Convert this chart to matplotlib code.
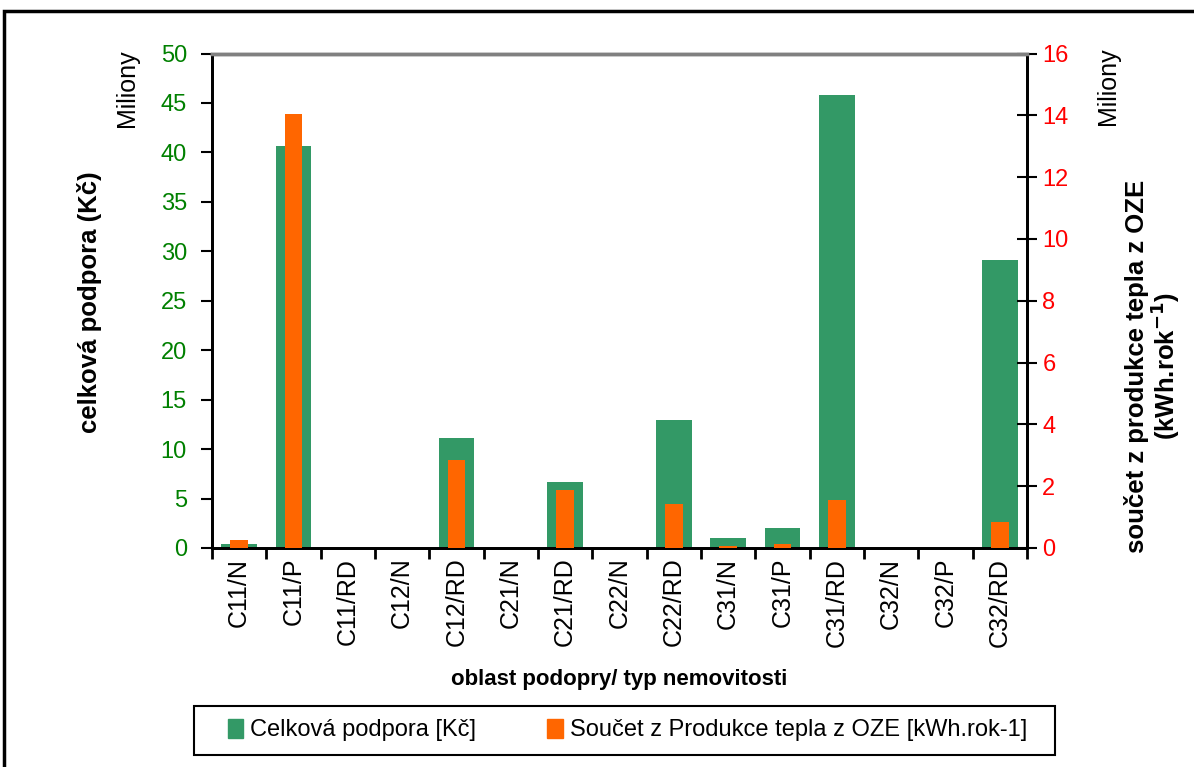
import numpy as np
import matplotlib.pyplot as plt
from matplotlib.patches import Rectangle, Patch

plt.rcParams['font.family'] = ['Liberation Sans', 'DejaVu Sans']

kategorie = ['C11/N', 'C11/P', 'C11/RD', 'C12/N', 'C12/RD', 'C21/N', 'C21/RD', 'C22/N',
             'C22/RD', 'C31/N', 'C31/P', 'C31/RD', 'C32/N', 'C32/P', 'C32/RD']
# celkova podpora v milionech Kc
podpora = [0.4, 40.65, 0, 0, 11.1, 0, 6.7, 0, 12.9, 1.0, 2.0, 45.8, 0, 0, 29.1]
# soucet produkce tepla z OZE v milionech kWh/rok
teplo = [0.26, 14.03, 0, 0, 2.84, 0, 1.87, 0, 1.42, 0.07, 0.14, 1.55, 0, 0, 0.84]

zelena = '#339966'
oranzova = '#FF6600'

fig = plt.figure(figsize=(11.94, 7.67), dpi=100)
ax = fig.add_axes([212/1194, 1 - 548/767, 815/1194, 494.5/767])
ax2 = ax.twinx()

x = np.arange(len(kategorie))
ax.bar(x, podpora, width=0.66, color=zelena, zorder=2)
ax2.bar(x, teplo, width=0.33, color=oranzova, zorder=3)

ax.set_xlim(-0.5, len(kategorie) - 0.5)
ax.set_ylim(0, 50)
ax2.set_ylim(0, 16)
ax.set_yticks(np.arange(0, 51, 5))
ax2.set_yticks(np.arange(0, 17, 2))

ax.set_xticks(x)
ax.set_xticklabels(kategorie, rotation=90, fontsize=18)
ax.set_xticks(np.arange(-0.5, len(kategorie), 1), minor=True)
ax.tick_params(axis='x', which='major', length=0, pad=7)
ax.tick_params(axis='x', which='minor', direction='out', length=8, width=2)
ax.tick_params(axis='y', direction='out', length=8, width=1.5, labelsize=17,
               labelcolor='#008000', pad=10)
ax2.tick_params(axis='y', direction='inout', length=14, width=1.5, labelsize=17,
                labelcolor='#FF0000', pad=4)

for a in (ax, ax2):
    for s in ('left', 'right', 'bottom'):
        a.spines[s].set_linewidth(2)
        a.spines[s].set_color('black')
    a.spines['top'].set_color('#808080')
    a.spines['top'].set_linewidth(2.5)

ax.set_xlabel('oblast podopry/ typ nemovitosti', fontsize=16, fontweight='bold',
              labelpad=16)
fig.text(90/1194, 1 - 302/767, 'celková podpora (Kč)', rotation=90, fontsize=18.5,
         fontweight='bold', ha='center', va='center')
fig.text(127/1194, 1 - 88/767, 'Miliony', rotation=90, fontsize=18,
         ha='center', va='center')
fig.text(1108/1194, 1 - 86/767, 'Miliony', rotation=90, fontsize=18,
         ha='center', va='center')
fig.text(1153/1194, 1 - 366/767,
         'součet z produkce tepla z OZE\n(kWh.rok$^{\\mathbf{-1}}$)',
         rotation=90, fontsize=18.5, fontweight='bold', ha='center', va='center',
         linespacing=1.0, multialignment='center')

# ramecek kolem celeho grafu
fig.patches.append(Rectangle((4/1194, -0.1), 1.2, 1 - 11/767 + 0.1,
                             transform=fig.transFigure, fill=False,
                             edgecolor='black', linewidth=2.5))

# legenda s vlastnim ramem
fig.patches.append(Rectangle((194/1194, 1 - 755/767), 861/1194, 49/767,
                             transform=fig.transFigure, fill=True, facecolor='white',
                             edgecolor='black', linewidth=1.5))
handles = [Patch(color=zelena, label='Celková podpora [Kč]'),
           Patch(color=oranzova, label='Součet z Produkce tepla z OZE [kWh.rok-1]')]
leg = fig.legend(handles=handles, loc='center left', ncol=2, fontsize=17,
                 bbox_to_anchor=(228/1194, 1 - 730/767), frameon=False,
                 handlelength=0.65, handleheight=0.85, handletextpad=0.3,
                 columnspacing=3.0, borderpad=0.0, borderaxespad=0.0)

fig.savefig('out.png', dpi=100)
